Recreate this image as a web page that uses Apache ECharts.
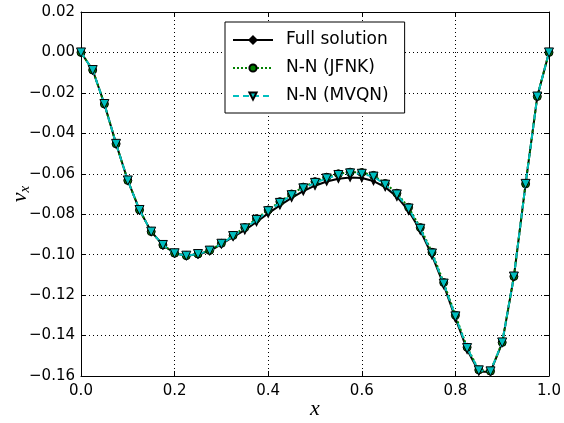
<!DOCTYPE html>
<html>
<head>
<meta charset="utf-8">
<script src="https://cdn.jsdelivr.net/npm/echarts@6/dist/echarts.min.js"></script>
<style>html,body{margin:0;padding:0;background:#fff}#c{width:564px;height:423px}</style>
</head>
<body>
<div id="c"></div>
<script>
const xValues = [0, 0.025, 0.05, 0.075, 0.1, 0.125, 0.15, 0.175, 0.2, 0.225, 0.25, 0.275, 0.3, 0.325, 0.35, 0.375, 0.4, 0.425, 0.45, 0.475, 0.5, 0.525, 0.55, 0.575, 0.6, 0.625, 0.65, 0.675, 0.7, 0.725, 0.75, 0.775, 0.8, 0.825, 0.85, 0.875, 0.9, 0.925, 0.95, 0.975, 1.0];
const fullSolution = [0, -0.0087, -0.0255, -0.0452, -0.0633, -0.0779, -0.0886, -0.0952, -0.0993, -0.1005, -0.0998, -0.0982, -0.0948, -0.0912, -0.0879, -0.0838, -0.0796, -0.0756, -0.0719, -0.0686, -0.0659, -0.0638, -0.0625, -0.0618, -0.0621, -0.0636, -0.0666, -0.0713, -0.0783, -0.0881, -0.1003, -0.1150, -0.1314, -0.1470, -0.1578, -0.1580, -0.1436, -0.1108, -0.0650, -0.0218, 0];
const jfnk = [0, -0.0087, -0.0255, -0.0452, -0.0633, -0.0779, -0.0886, -0.0952, -0.0993, -0.1005, -0.0997, -0.0979, -0.0944, -0.0905, -0.0866, -0.0822, -0.0779, -0.0738, -0.0700, -0.0666, -0.0639, -0.0617, -0.0600, -0.0592, -0.0594, -0.0608, -0.0648, -0.0696, -0.0766, -0.0866, -0.0988, -0.1138, -0.1300, -0.1458, -0.1570, -0.1576, -0.1434, -0.1108, -0.0650, -0.0218, 0];
const mvqn = [0, -0.0087, -0.0255, -0.0452, -0.0633, -0.0779, -0.0886, -0.0952, -0.0993, -0.1005, -0.0997, -0.0980, -0.0946, -0.0908, -0.0870, -0.0828, -0.0785, -0.0744, -0.0706, -0.0672, -0.0645, -0.0623, -0.0606, -0.0598, -0.0600, -0.0614, -0.0654, -0.0702, -0.0772, -0.0872, -0.0994, -0.1143, -0.1305, -0.1462, -0.1572, -0.1577, -0.1434, -0.1108, -0.0650, -0.0218, 0];
const xTicks = [0.0, 0.2, 0.4, 0.6, 0.8, 1.0];
const yTicks = [-0.16, -0.14, -0.12, -0.10, -0.08, -0.06, -0.04, -0.02, 0.00, 0.02];
const seriesNames = ['Full solution', 'N-N (JFNK)', 'N-N (MVQN)'];

const pair = ys => xValues.map((x, i) => [x, ys[i]]);
const fmtY = v => (v < 0 ? '\u2212' : '') + Math.abs(v).toFixed(2);
const font = 'DejaVu Sans';

const chart = echarts.init(document.getElementById('c'), null, {renderer: 'canvas'});
const gridLine = {show: true, lineStyle: {color: '#000', type: [1, 3], width: 1}};
const baseAxis = {
  axisLine: {show: true, onZero: false, lineStyle: {color: '#000', width: 1}},
  axisTick: {show: true, inside: true, length: 5, lineStyle: {color: '#000'}},
};
chart.setOption({
  animation: false,
  backgroundColor: '#fff',
  grid: {left: 81, right: 15, top: 12, bottom: 47, containLabel: false, outerBoundsMode: 'none'},
  legend: {
    orient: 'vertical', left: 225, top: 22,
    data: seriesNames,
    backgroundColor: '#fff', borderColor: '#000', borderWidth: 1, borderRadius: 0,
    padding: [9, 16, 8, 7],
    itemWidth: 40, itemHeight: 9, itemGap: 10,
    textStyle: {fontFamily: font, fontSize: 17, color: '#000', padding: [0, 0, 0, 8], lineHeight: 18}
  },
  xAxis: [
    Object.assign({}, baseAxis, {
      type: 'value', min: 0, max: 1, interval: 0.2, position: 'bottom',
      axisLabel: {fontFamily: font, fontSize: 15, color: '#000', margin: 8, formatter: v => v.toFixed(1)},
      splitLine: gridLine,
      name: 'x', nameLocation: 'middle', nameGap: 22, nameMoveOverlap: false,
      nameTextStyle: {fontFamily: 'Liberation Serif', fontStyle: 'italic', fontSize: 22, color: '#000'}
    }),
    Object.assign({}, baseAxis, {
      type: 'value', min: 0, max: 1, interval: 0.2, position: 'top',
      axisLabel: {show: false}, splitLine: {show: false}
    })
  ],
  yAxis: [
    Object.assign({}, baseAxis, {
      type: 'value', min: -0.16, max: 0.02, interval: 0.02, position: 'left',
      axisLabel: {fontFamily: font, fontSize: 15, color: '#000', margin: 6, formatter: fmtY},
      splitLine: gridLine,
      name: '{v|v}{s|x}', nameLocation: 'middle', nameGap: 48, nameRotate: 90, nameMoveOverlap: false,
      nameTextStyle: {rich: {
        v: {fontFamily: 'Liberation Serif', fontStyle: 'italic', fontSize: 22, color: '#000'},
        s: {fontFamily: 'Liberation Serif', fontStyle: 'italic', fontSize: 15, color: '#000', padding: [10, 0, 0, 0]}
      }}
    }),
    Object.assign({}, baseAxis, {
      type: 'value', min: -0.16, max: 0.02, interval: 0.02, position: 'right',
      axisLabel: {show: false}, splitLine: {show: false}
    })
  ],
  series: [
    {
      name: seriesNames[0], type: 'line', data: pair(fullSolution),
      lineStyle: {color: '#000', width: 2},
      itemStyle: {color: '#000', borderColor: '#000', borderWidth: 1},
      symbol: 'diamond', symbolSize: [4, 8], showAllSymbol: true, z: 2
    },
    {
      name: seriesNames[1], type: 'line', data: pair(jfnk),
      lineStyle: {color: '#008000', width: 2, type: [2, 2]},
      itemStyle: {color: '#008000', borderColor: '#000', borderWidth: 1},
      symbol: 'circle', symbolSize: 8, showAllSymbol: true, z: 3
    },
    {
      name: seriesNames[2], type: 'line', data: pair(mvqn),
      lineStyle: {color: '#00bfbf', width: 2, type: [6, 4]},
      itemStyle: {color: '#00bfbf', borderColor: '#000', borderWidth: 1},
      symbol: 'triangle', symbolRotate: 180, symbolSize: 9, showAllSymbol: true, z: 4
    }
  ]
});
</script>
</body>
</html>
